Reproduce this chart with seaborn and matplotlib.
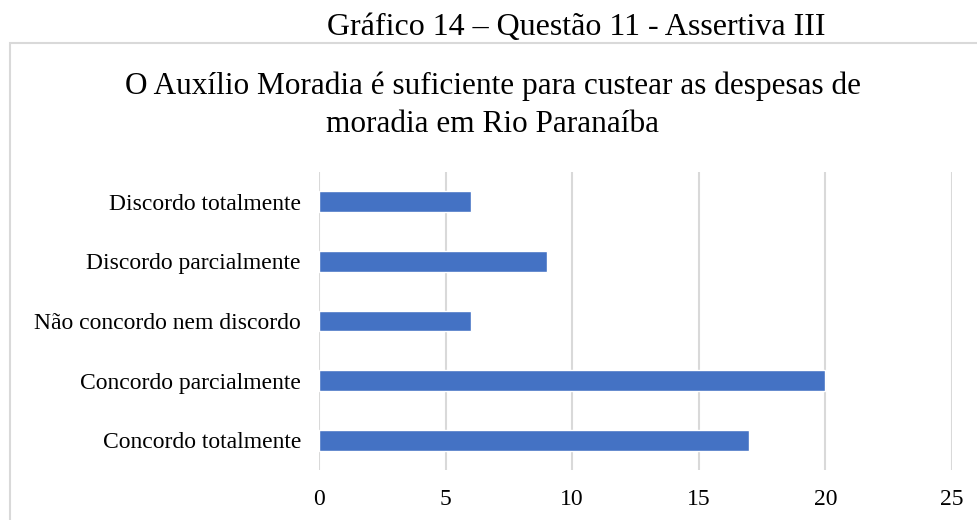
import matplotlib
matplotlib.use('Agg')
import matplotlib.pyplot as plt
import matplotlib.patches as patches
import seaborn as sns
import pandas as pd

# dados
categorias = ['Discordo totalmente', 'Discordo parcialmente', 'Não concordo nem discordo',
              'Concordo parcialmente', 'Concordo totalmente']
valores = [6, 9, 6, 20, 17]
xticks = [0, 5, 10, 15, 20, 25]

df = pd.DataFrame({'cat': categorias, 'val': valores})

sns.set_theme(style='white')
plt.rcParams['font.family'] = ['Liberation Serif', 'DejaVu Serif']
plt.rcParams['text.color'] = 'black'

fig = plt.figure(figsize=(9.77, 5.2), dpi=100)
ax = fig.add_axes([0.3265, 0.0962, 0.6479, 0.5728])

sns.barplot(data=df, x='val', y='cat', color='#4472C4', width=0.35,
            saturation=1, ax=ax, zorder=3)

ax.set_xlim(0, 25)
ax.set_xticks(xticks)
ax.set_ylim(4.5, -0.5)
ax.set_xlabel('')
ax.set_ylabel('')
for s in ax.spines.values():
    s.set_visible(False)
ax.grid(axis='x', color='#d9d9d9', linewidth=1.5, zorder=0)
ax.tick_params(axis='x', length=0, pad=14, labelsize=17, colors='#000000')
ax.tick_params(axis='y', length=0, pad=13, labelsize=17, colors='#000000')

# moldura
fig.patches.append(patches.Rectangle((10 / 977, -0.1), 1.2, 1 - 43 / 520 + 0.1,
                                     transform=fig.transFigure, fill=False,
                                     edgecolor='#d9d9d9', linewidth=1.5))

fig.text(576 / 977, 1 - 27 / 520, 'Gráfico 14 – Questão 11 - Assertiva III',
         ha='center', va='center', fontsize=23, color='black')
fig.text(493 / 977, 1 - 86 / 520, 'O Auxílio Moradia é suficiente para custear as despesas de',
         ha='center', va='center', fontsize=22.5, color='black')
fig.text(493 / 977, 1 - 124 / 520, 'moradia em Rio Paranaíba',
         ha='center', va='center', fontsize=22.5, color='black')

fig.savefig('out.png', dpi=100)
